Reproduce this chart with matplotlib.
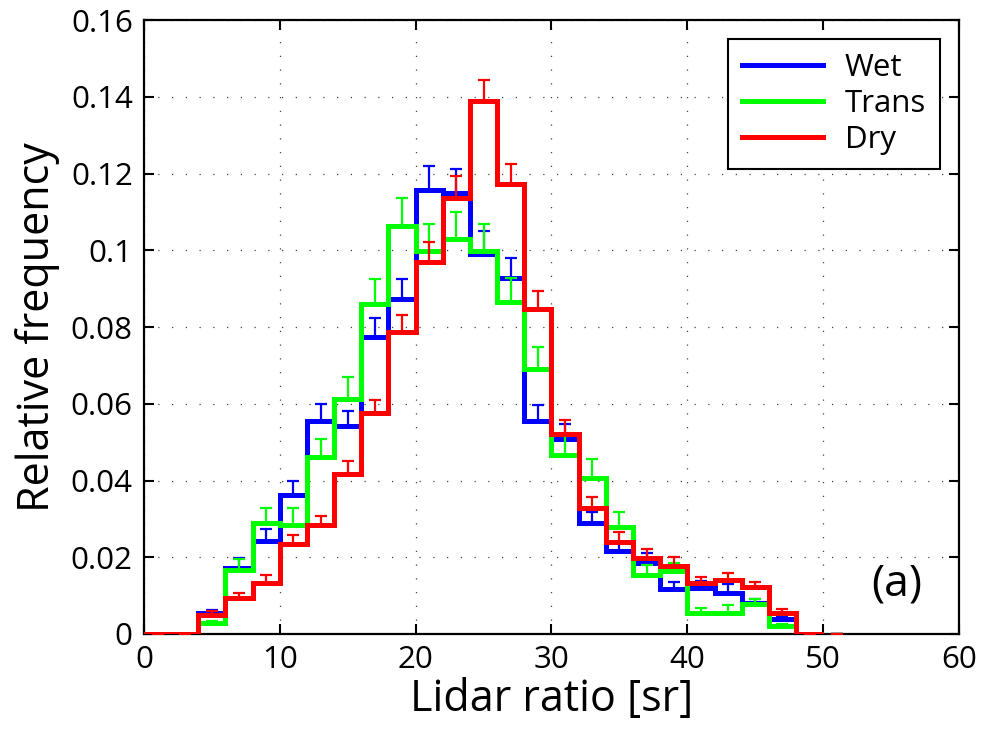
#!/usr/bin/env python3
"""Lidar ratio histograms (wet / transition / dry) with upper error bars."""

import numpy as np
import matplotlib
matplotlib.use('Agg')
import matplotlib.pyplot as plt

plt.rcParams['font.family'] = ['Open Sans', 'DejaVu Sans']

# bin edges every 2 sr, values given at bin centres 1, 3, ..., 51
bin_edges = np.arange(0, 54, 2)
bin_centres = np.arange(1, 53, 2)

wet = [0, 0, 0.0055, 0.0173, 0.0243, 0.0363, 0.0555, 0.0541, 0.0773, 0.0873,
       0.1156, 0.1150, 0.0990, 0.0929, 0.0555, 0.0509, 0.0289, 0.0215, 0.0186,
       0.0116, 0.0119, 0.0108, 0.0081, 0.0038, 0, 0]
trans = [0, 0, 0.0029, 0.0167, 0.0290, 0.0284, 0.0462, 0.0612, 0.0860, 0.1062,
         0.0997, 0.1029, 0.0997, 0.0864, 0.0690, 0.0467, 0.0407, 0.0280, 0.0154,
         0.0165, 0.0054, 0.0056, 0.0078, 0.0020, 0, 0]
dry = [0, 0, 0.0049, 0.0094, 0.0134, 0.0235, 0.0284, 0.0418, 0.0575, 0.0786,
       0.0970, 0.1136, 0.1389, 0.1172, 0.0847, 0.0522, 0.0328, 0.0241, 0.0197,
       0.0177, 0.0132, 0.0142, 0.0123, 0.0054, 0, 0]

wet_err = [0, 0, 0.0007, 0.0026, 0.0030, 0.0035, 0.0044, 0.0041, 0.0050, 0.0052,
           0.0063, 0.0063, 0.0061, 0.0052, 0.0042, 0.0038, 0.0029, 0.0022, 0.0026,
           0.0020, 0.0019, 0.0021, 0.0011, 0.0007, 0, 0]
trans_err = [0, 0, 0.0005, 0.0028, 0.0039, 0.0044, 0.0047, 0.0058, 0.0065, 0.0074,
             0.0071, 0.0071, 0.0071, 0.0065, 0.0058, 0.0048, 0.0048, 0.0039, 0.0026,
             0.0019, 0.0015, 0.0019, 0.0013, 0.0005, 0, 0]
dry_err = [0, 0, 0.0010, 0.0013, 0.0020, 0.0022, 0.0024, 0.0032, 0.0036, 0.0045,
           0.0051, 0.0058, 0.0055, 0.0052, 0.0046, 0.0035, 0.0029, 0.0024, 0.0024,
           0.0023, 0.0017, 0.0016, 0.0013, 0.0010, 0, 0]

series = [
    ('Wet', wet, wet_err, '#0000ff'),
    ('Trans', trans, trans_err, '#00ff00'),
    ('Dry', dry, dry_err, '#ff0000'),
]

fig = plt.figure(figsize=(9.82, 7.31), dpi=100)
ax = fig.add_axes([0.1466, 0.1327, 0.83, 0.8399])

for name, vals, errs, color in series:
    vals = np.array(vals)
    errs = np.array(errs)
    # stairs stop at x=50 (last drawn step is the 48-50 bin)
    ax.stairs(vals[:-1], bin_edges[:-1], baseline=None, color=color,
              linewidth=3.6, label=name, zorder=3)
    ax.errorbar(bin_centres, vals, yerr=[np.zeros_like(errs), errs],
                fmt='none', ecolor=color, elinewidth=1.6, capsize=4.5,
                capthick=1.6, zorder=3)

ax.set_xlim(0, 60)
ax.set_ylim(0, 0.16)
ax.set_xticks(np.arange(0, 61, 10))
ax.set_yticks(np.arange(0, 0.161, 0.02))
ax.set_yticklabels(['0', '0.02', '0.04', '0.06', '0.08', '0.1', '0.12', '0.14', '0.16'])

ax.grid(True, color='#444444', linestyle=(0, (1, 10)), linewidth=0.9)
ax.tick_params(direction='in', top=True, right=True, length=7, width=1.5,
               labelsize=22.5, pad=8)
for sp in ax.spines.values():
    sp.set_linewidth(1.6)

ax.set_xlabel('Lidar ratio [sr]', fontsize=31, labelpad=2)
ax.set_ylabel('Relative frequency', fontsize=31, labelpad=8)

ax.text(0.955, 0.045, '(a)', transform=ax.transAxes, fontsize=32,
        ha='right', va='bottom')

leg = ax.legend(loc='upper right', fontsize=22.5, fancybox=False, framealpha=1,
                edgecolor='black', handlelength=2.6, borderaxespad=0.6,
                labelspacing=0.2, handletextpad=0.7, borderpad=0.45)
leg.get_frame().set_linewidth(1.5)

fig.savefig('out.png', dpi=100)
